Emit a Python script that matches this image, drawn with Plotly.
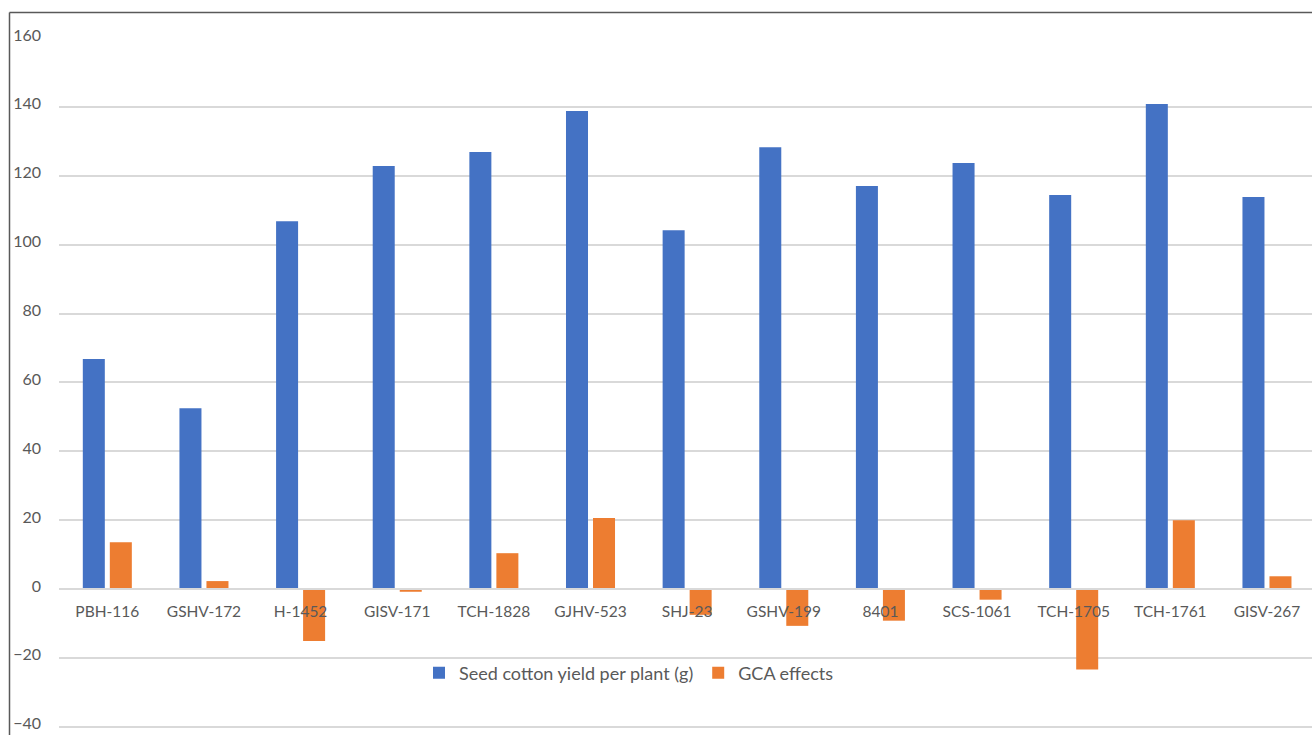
import plotly.graph_objects as go

categories = ["PBH-116", "GSHV-172", "H-1452", "GISV-171", "TCH-1828", "GJHV-523",
              "SHJ-23", "GSHV-199", "8401", "SCS-1061", "TCH-1705", "TCH-1761", "GISV-267"]
seed_yield = [66.8, 52.5, 106.8, 122.8, 126.9, 138.8, 104.2, 128.3, 117.0, 123.7, 114.4, 140.8, 113.8]
gca_effects = [13.6, 2.3, -15.1, -0.8, 10.4, 20.6, -7.5, -10.7, -9.2, -3.1, -23.4, 20.0, 3.7]
y_ticks = [-40, -20, 0, 20, 40, 60, 80, 100, 120, 140, 160]

W, H = 1312, 735
L, R, T, B = 59, 0, 38, 7
pw, ph = W - L - R, H - T - B

font_family = "Lato, 'Open Sans', sans-serif"
txt_color = "#595959"
grid_color = "#d9d9d9"

fig = go.Figure()
fig.add_trace(go.Bar(x=categories, y=seed_yield, name="Seed cotton yield per plant (g)",
                     marker=dict(color="#4472c4", line=dict(width=0))))
fig.add_trace(go.Bar(x=categories, y=gca_effects, name="GCA effects",
                     marker=dict(color="#ed7d31", line=dict(width=0))))

ymin, ymax = -40.36, 160
zero_pos = (0 - ymin) / (ymax - ymin)

fig.update_layout(
    width=W, height=H,
    margin=dict(l=L, r=R, t=T, b=B, pad=0, autoexpand=False),
    paper_bgcolor="white", plot_bgcolor="white",
    barmode="group", bargap=0.441, bargroupgap=0.185,
    font=dict(family=font_family, color=txt_color, size=15),
    showlegend=True,
    legend=dict(orientation="h", x=(629 - L) / pw, xanchor="center",
                y=(H - B - 673) / ph, yanchor="middle",
                font=dict(size=18, color=txt_color), bgcolor="rgba(0,0,0,0)",
                itemsizing="constant", traceorder="normal"),
    xaxis=dict(anchor="free", position=zero_pos, showline=True, linecolor=grid_color,
               linewidth=1.5, showgrid=False, ticks="", tickfont=dict(size=15.5, color=txt_color),
               ticklabelstandoff=9, automargin=False,
               range=[-0.5, 12.466], fixedrange=True),
    yaxis=dict(range=[ymin, ymax], tickvals=y_ticks, showgrid=True, gridcolor=grid_color,
               gridwidth=1.5, zeroline=False, showline=False, ticks="",
               tickfont=dict(size=16, color=txt_color), ticklabelstandoff=17,
               ticklabelshift=-3, ticklabeloverflow="allow", automargin=False),
)

# outer frame (left and top edges)
x_left = (9.5 - L) / pw
y_top = 1 + (T - 12.5) / ph
fig.add_shape(type="line", xref="paper", yref="paper", x0=x_left, x1=x_left,
              y0=y_top, y1=-B / ph - 0.01, line=dict(color="#595959", width=1.5))
fig.add_shape(type="line", xref="paper", yref="paper", x0=x_left, x1=1.01,
              y0=y_top, y1=y_top, line=dict(color="#595959", width=1.5))

fig.write_html("out.html")
